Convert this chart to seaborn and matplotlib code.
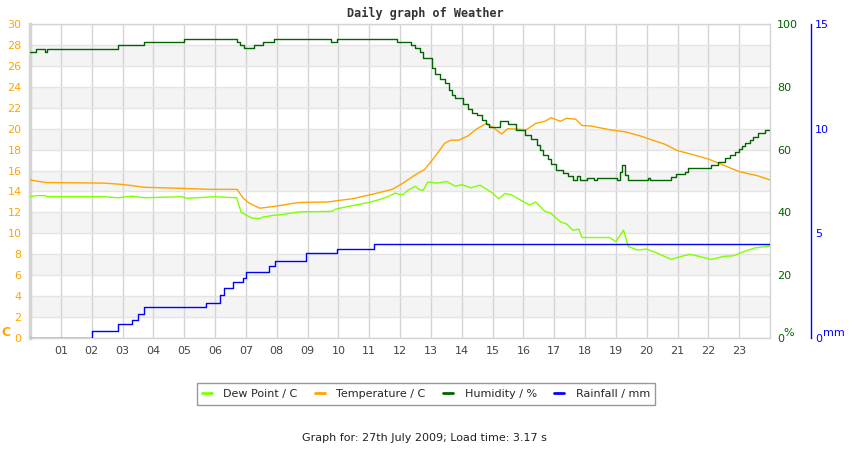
import matplotlib
matplotlib.use("Agg")
import matplotlib.pyplot as plt
import seaborn as sns
from matplotlib.lines import Line2D

# hours of the day (0-24) and readings
temp_t = [0, 0.2, 0.55, 2.37, 2.88, 3.2, 3.7, 4.9, 5.85, 6.72, 6.9, 7.1, 7.45, 7.86, 8.2, 8.5, 8.75,
          9.7, 9.9, 10.45, 10.9, 11.2, 11.75, 12.1, 12.5, 12.8, 13.1, 13.45, 13.65, 13.9, 14.2, 14.5,
          14.8, 15.0, 15.3, 15.5, 16.1, 16.4, 16.7, 16.9, 17.2, 17.4, 17.7, 17.9, 18.2, 18.8, 19.3,
          19.8, 20.1, 20.6, 21.0, 21.4, 22.0, 22.5, 23.0, 23.6, 24.0]
temp_v = [15.1, 15.0, 14.85, 14.8, 14.7, 14.6, 14.4, 14.3, 14.2, 14.2, 13.4, 12.9, 12.4, 12.55, 12.7,
          12.85, 12.95, 13.0, 13.1, 13.3, 13.6, 13.8, 14.2, 14.8, 15.6, 16.1, 17.2, 18.6, 18.9, 18.9,
          19.3, 20.0, 20.5, 20.15, 19.5, 20.0, 19.9, 20.5, 20.7, 21.05, 20.7, 21.0, 20.9, 20.3, 20.25,
          19.9, 19.7, 19.3, 19.0, 18.5, 17.9, 17.6, 17.1, 16.5, 15.9, 15.5, 15.1]

dew_t = [0, 0.2, 0.5, 0.55, 2.4, 2.85, 3.3, 3.7, 4.9, 5.1, 6.0, 6.7, 6.85, 7.2, 7.45, 7.55, 7.86, 8.2,
         8.5, 8.75, 9.8, 9.9, 10.2, 10.55, 11.0, 11.3, 11.6, 11.85, 12.0, 12.1, 12.25, 12.5, 12.6,
         12.75, 12.9, 13.2, 13.5, 13.8, 14.0, 14.3, 14.6, 15.0, 15.2, 15.4, 15.6, 15.9, 16.2, 16.4,
         16.7, 16.9, 17.2, 17.4, 17.6, 17.8, 17.9, 18.2, 18.8, 19.0, 19.25, 19.4, 19.7, 20.0, 20.35,
         20.8, 21.0, 21.4, 21.7, 22.1, 22.5, 22.8, 23.2, 23.5, 24.0]
dew_v = [13.5, 13.6, 13.6, 13.5, 13.5, 13.4, 13.55, 13.4, 13.5, 13.35, 13.5, 13.4, 12.0, 11.45, 11.4,
         11.55, 11.7, 11.8, 11.95, 12.05, 12.1, 12.3, 12.5, 12.7, 12.95, 13.2, 13.5, 13.85, 13.7, 13.7,
         14.1, 14.5, 14.2, 14.1, 14.9, 14.8, 14.95, 14.5, 14.65, 14.35, 14.6, 13.85, 13.3, 13.8, 13.7,
         13.2, 12.7, 13.0, 12.1, 11.9, 11.1, 10.9, 10.3, 10.4, 9.6, 9.6, 9.6, 9.2, 10.3, 8.75, 8.4,
         8.5, 8.1, 7.5, 7.7, 8.0, 7.8, 7.5, 7.8, 7.85, 8.3, 8.6, 8.8]

hum_t = [0, 0.2, 0.5, 0.55, 2.85, 3.7, 5.0, 6.7, 6.8, 6.95, 7.25, 7.55, 7.9, 9.75, 9.95, 11.9, 12.35,
         12.5, 12.65, 12.75, 13.05, 13.15, 13.3, 13.45, 13.6, 13.7, 13.8, 14.05, 14.2, 14.35, 14.5,
         14.65, 14.8, 14.9, 15.25, 15.5, 15.75, 16.05, 16.25, 16.45, 16.55, 16.65, 16.8, 16.9, 17.05,
         17.3, 17.45, 17.6, 17.75, 17.85, 18.05, 18.3, 18.4, 19.05, 19.15, 19.2, 19.3, 19.4, 20.05,
         20.1, 20.8, 20.95, 21.25, 21.35, 22.1, 22.3, 22.55, 22.7, 22.85, 23.0, 23.1, 23.2, 23.35,
         23.45, 23.6, 23.85, 24.0]
hum_v = [91.2, 92.1, 91.2, 92.1, 93.2, 94.2, 95.1, 94.2, 93.2, 92.2, 93.2, 94.2, 95.1, 94.2, 95.1,
         94.2, 93.2, 92.2, 91.2, 89.1, 86.0, 84.0, 82.5, 81.1, 79.0, 77.5, 76.3, 74.5, 73.0, 71.5,
         71.0, 69.5, 68.0, 67.1, 69.2, 68.2, 66.2, 64.6, 63.5, 61.5, 60.0, 58.3, 57.0, 55.5, 53.5,
         52.4, 51.5, 50.3, 51.5, 50.3, 50.8, 50.3, 50.8, 50.3, 53.0, 55.1, 52.0, 50.3, 50.8, 50.3,
         51.2, 52.2, 53.0, 54.0, 55.1, 56.1, 57.2, 58.3, 59.3, 60.2, 61.0, 62.0, 63.0, 64.1, 65.2,
         66.2, 66.2]

rain_t = [0, 2.0, 2.85, 3.3, 3.5, 3.7, 5.7, 6.15, 6.3, 6.6, 6.9, 7.0, 7.75, 7.95, 8.95, 9.95, 11.15, 24.0]
rain_v = [0, 0.35, 0.67, 0.86, 1.15, 1.47, 1.66, 2.04, 2.39, 2.66, 2.85, 3.14, 3.46, 3.66, 4.05, 4.24,
          4.48, 4.48]

hour_labels = ["%02d" % h for h in range(1, 24)]
series_names = ["Dew Point / C", "Temperature / C", "Humidity / %", "Rainfall / mm"]

c_dew = "#80ff00"
c_temp = "#ffa500"
c_hum = "#006400"
c_rain = "#0000ff"

sns.set_style("white")
plt.rcParams["font.family"] = ["DejaVu Sans"]

fig = plt.figure(figsize=(8.5, 4.5), dpi=100)
ax = fig.add_axes([30 / 850, 112 / 450, 740 / 850, 314 / 450])

# striped background
for lo in range(2, 28, 4):
    ax.axhspan(lo, lo + 2, color="#f4f4f4", zorder=0, lw=0)

ax.set_xlim(0, 24)
ax.set_ylim(0, 30)
ax.set_xticks(range(1, 24))
ax.set_xticklabels(hour_labels)
ax.set_yticks(range(0, 31, 2))
ax.set_axisbelow(True)
ax.grid(True, axis="x", color="#d4d4d4", lw=1)
ax.grid(True, axis="y", color="#e4e4e4", lw=1)
ax.tick_params(axis="x", length=0, labelsize=8, colors="#444444", pad=6)
ax.tick_params(axis="y", length=0, labelsize=8, colors=c_temp, pad=6)
for s in ax.spines.values():
    s.set_color("#d4d4d4")
    s.set_linewidth(1)
ax.spines["left"].set_linewidth(2.5)

sns.lineplot(x=dew_t, y=dew_v, ax=ax, color=c_dew, lw=1, zorder=3)
sns.lineplot(x=temp_t, y=temp_v, ax=ax, color=c_temp, lw=1, zorder=3)

ax_h = ax.twinx()
ax_h.set_ylim(0, 100)
ax_h.set_yticks(range(0, 101, 20))
ax_h.tick_params(axis="y", length=0, labelsize=8, colors=c_hum, pad=5)
for s in ax_h.spines.values():
    s.set_visible(False)
sns.lineplot(x=hum_t, y=hum_v, ax=ax_h, color=c_hum, lw=1, drawstyle="steps-post")

ax_r = ax.twinx()
ax_r.set_ylim(0, 15)
ax_r.set_yticks([0, 5, 10, 15])
ax_r.tick_params(axis="y", length=0, labelsize=8, colors=c_rain, pad=3)
for s in ax_r.spines.values():
    s.set_visible(False)
ax_r.spines["right"].set_visible(True)
ax_r.spines["right"].set_position(("axes", (811 - 30) / 740))
ax_r.spines["right"].set_color(c_rain)
ax_r.spines["right"].set_linewidth(1)
sns.lineplot(x=rain_t, y=rain_v, ax=ax_r, color=c_rain, lw=1, drawstyle="steps-post")

for a in (ax, ax_h, ax_r):
    a.set_xlabel("")
    a.set_ylabel("")
    a.set_xlim(0, 24)

# axis unit markers
fig.text(6 / 850, 1 - 333 / 450, "C", color=c_temp, fontsize=9, fontweight="bold", ha="center", va="center")
fig.text(789 / 850, 1 - 333 / 450, "%", color=c_hum, fontsize=8, ha="center", va="center")
fig.text(834 / 850, 1 - 333 / 450, "mm", color=c_rain, fontsize=8, ha="center", va="center")

fig.text(425 / 850, 1 - 13 / 450, "Daily graph of Weather", family="DejaVu Sans Mono",
         fontweight="bold", fontsize=8.5, color="#333333", ha="center", va="center")

handles = [Line2D([], [], color=c, lw=2) for c in (c_dew, c_temp, c_hum, c_rain)]
leg = fig.legend(handles, series_names, loc="center", bbox_to_anchor=(426 / 850, 1 - 394 / 450),
                 ncol=4, frameon=True, fancybox=False, edgecolor="#808080", fontsize=8,
                 handlelength=0.9, columnspacing=1.6, borderpad=0.5, handletextpad=1.0)
leg.get_frame().set_linewidth(1)

fig.text(424 / 850, 1 - 438 / 450, "Graph for: 27th July 2009; Load time: 3.17 s",
         fontsize=8, color="#222222", ha="center", va="center")

fig.savefig("out.png", dpi=100)
